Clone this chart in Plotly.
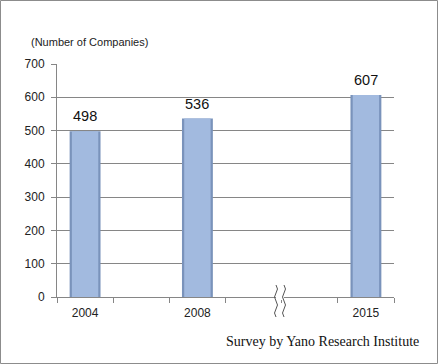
import plotly.graph_objects as go

years = ["2004", "2008", "2015"]
positions = [0, 2, 5]
companies = [498, 536, 607]
y_ticks = [0, 100, 200, 300, 400, 500, 600, 700]

L, R, T, B = 57, 44, 64, 67
W, H = 438, 364
pw, ph = W - L - R, H - T - B

def px2paper_x(px):
    return (px - L) / pw

def px2paper_y(py):
    return (H - B - py) / ph

fig = go.Figure()
# darker edge bar
fig.add_trace(go.Bar(x=positions, y=companies, width=0.55,
                     marker=dict(color="#7a93bb", line=dict(width=0)),
                     hoverinfo="skip", showlegend=False))
# lighter inner bar
fig.add_trace(go.Bar(x=positions, y=companies, width=0.47,
                     marker=dict(color="#a2badf", line=dict(width=0)),
                     showlegend=False))

annotations = [
    dict(x=p, y=v, xref="x", yref="y", text=str(v), showarrow=False,
         yanchor="bottom", xanchor="center", yshift=5,
         font=dict(size=14.5, color="#111111", family="Liberation Sans, Arial"))
    for p, v in zip(positions, companies)
]
annotations += [
    dict(text="(Number of Companies)", xref="paper", yref="paper",
         x=px2paper_x(29), y=px2paper_y(42), xanchor="left", yanchor="middle",
         showarrow=False, font=dict(size=11, color="#222222")),
    dict(text="Survey by Yano Research Institute", xref="paper", yref="paper",
         x=px2paper_x(421), y=px2paper_y(341), xanchor="right", yanchor="middle",
         showarrow=False, font=dict(size=14, color="#111111",
                                    family="Liberation Serif, Times New Roman")),
]

shapes = []
# outer frame
shapes.append(dict(type="rect", xref="paper", yref="paper",
                   x0=px2paper_x(0.5), x1=px2paper_x(437.5),
                   y0=px2paper_y(363.5), y1=px2paper_y(0.5),
                   line=dict(color="#8c8c8c", width=1), layer="above"))
# axis break
xa, xb = px2paper_x(276), px2paper_x(284)
shapes.append(dict(type="rect", xref="paper", yref="paper",
                   x0=xa, x1=xb, y0=px2paper_y(300), y1=px2paper_y(294),
                   fillcolor="white", line=dict(width=0), layer="above"))
for xc in (xa, xb):
    ys = [px2paper_y(v) for v in (285, 293, 301, 309, 317)]
    dx = px2paper_x(3) - px2paper_x(0)
    path = (f"M {xc},{ys[0]} Q {xc+dx},{(ys[0]+ys[1])/2} {xc},{ys[1]} "
            f"Q {xc-dx},{(ys[1]+ys[2])/2} {xc},{ys[2]} "
            f"Q {xc+dx},{(ys[2]+ys[3])/2} {xc},{ys[3]} "
            f"Q {xc-dx},{(ys[3]+ys[4])/2} {xc},{ys[4]}")
    shapes.append(dict(type="path", xref="paper", yref="paper", path=path,
                       line=dict(color="#555555", width=1), layer="above"))

fig.update_layout(
    width=W, height=H,
    margin=dict(l=L, r=R, t=T, b=B),
    paper_bgcolor="white", plot_bgcolor="white",
    barmode="overlay",
    font=dict(family="Liberation Sans, Arial", size=12, color="#222222"),
    xaxis=dict(range=[-0.5, 5.5], tickvals=positions, ticktext=years,
               ticks="", showgrid=False, showline=True, linecolor="#868686",
               tickfont=dict(size=12), zeroline=False, ticklabelstandoff=5,
               minor=dict(tick0=0.5, dtick=1, ticks="outside", ticklen=5,
                          tickcolor="#868686", showgrid=False)),
    yaxis=dict(range=[0, 700], tickvals=y_ticks, showgrid=True,
               gridcolor="#868686", gridwidth=1, showline=True,
               linecolor="#868686", ticks="outside", ticklen=5,
               tickcolor="#868686", zeroline=False, tickfont=dict(size=12),
               ticklabelstandoff=4),
    shapes=shapes,
    annotations=annotations,
)

fig.write_html("out.html", config={"displayModeBar": False},
               post_script="document.body.style.margin='0';document.body.style.overflow='hidden';")
